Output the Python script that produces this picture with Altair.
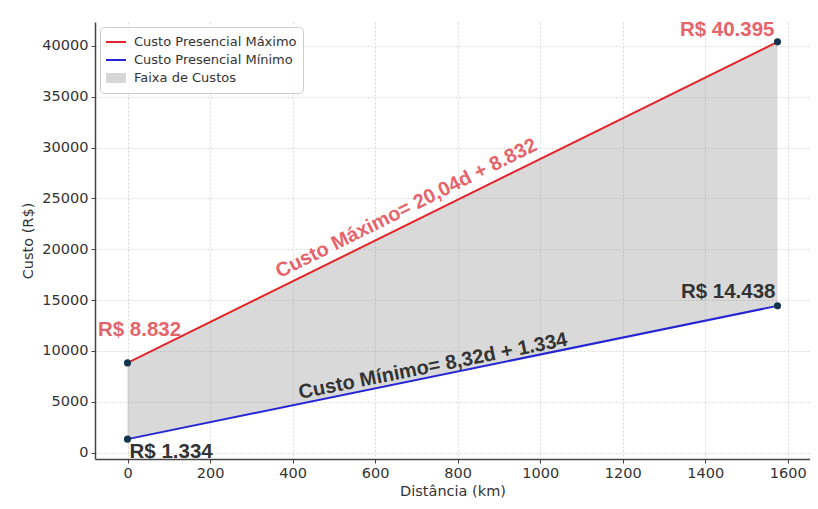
import altair as alt
import pandas as pd

# ---- data ----
distancias = [0, 1575]
custo_max = [8832, 40395]
custo_min = [1334, 14438]
serie_max = "Custo Presencial Máximo"
serie_min = "Custo Presencial Mínimo"
serie_faixa = "Faixa de Custos"

rotulos_max = ["R$ 8.832", "R$ 40.395"]
rotulos_min = ["R$ 1.334", "R$ 14.438"]

eq_textos = ["Custo Máximo= 20,04d + 8.832", "Custo Mínimo= 8,32d + 1.334"]
eq_coef = [20.04, 8.32]
eq_intercepto = [8832, 1334]
eq_d = [692, 745]

x_ticks = [0, 200, 400, 600, 800, 1000, 1200, 1400, 1600]
y_ticks = [0, 5000, 10000, 15000, 20000, 25000, 30000, 35000, 40000]

# ---- tables ----
linhas = pd.DataFrame({
    "d": distancias + distancias,
    "custo": custo_max + custo_min,
    "serie": [serie_max] * 2 + [serie_min] * 2,
})
faixa = pd.DataFrame({"d": distancias, "lo": custo_min, "hi": custo_max})

RED = "#e0262b"
BLUE = "#2525d8"
LRED = "#e5636b"
DARK = "#333333"

xs = alt.Scale(domain=[-78.75, 1653.75], nice=False, zero=False)
ys = alt.Scale(domain=[-619, 42348], nice=False, zero=False)

xax = alt.Axis(values=x_ticks, title="Distância (km)", format="d")
yax = alt.Axis(values=y_ticks, title="Custo (R$)", format="d")

area = alt.Chart(faixa).mark_area(color="#808080", opacity=0.3).encode(
    x=alt.X("d:Q", scale=xs, axis=xax),
    y=alt.Y("lo:Q", scale=ys, axis=yax),
    y2="hi:Q",
)

lines = alt.Chart(linhas).mark_line(strokeWidth=2).encode(
    x=alt.X("d:Q", scale=xs),
    y=alt.Y("custo:Q", scale=ys),
    color=alt.Color(
        "serie:N",
        scale=alt.Scale(domain=[serie_max, serie_min, serie_faixa],
                        range=[RED, BLUE, "#d6d6d6"]),
        legend=alt.Legend(
            title=None, orient="top-left", offset=5,
            symbolType="stroke", symbolSize=729,
            symbolStrokeWidth=alt.ExprRef(expr="datum.label == 'Faixa de Custos' ? 10 : 2"),
            labelFont="DejaVu Sans", labelFontSize=13, labelColor=DARK, labelLimit=400,
            fillColor="rgba(255,255,255,0.85)", strokeColor="#cccccc",
            cornerRadius=4, padding=6, rowPadding=0, clipHeight=18, labelOffset=15,
        ),
    ),
)

pts = alt.Chart(linhas).mark_circle(size=50, color="#12344d", opacity=1).encode(
    x=alt.X("d:Q", scale=xs),
    y=alt.Y("custo:Q", scale=ys),
)

lab_font = dict(font="Liberation Sans", fontWeight="bold", fontSize=20.5)
eq_font = dict(font="Liberation Sans", fontWeight="bold", fontSize=20)

def pt_label(d, c, txt, color, align, baseline, dx, dy):
    df = pd.DataFrame({"d": [d], "custo": [c], "t": [txt]})
    return alt.Chart(df).mark_text(color=color, align=align, baseline=baseline,
                                   dx=dx, dy=dy, **lab_font).encode(
        x=alt.X("d:Q", scale=xs), y=alt.Y("custo:Q", scale=ys), text="t:N")

labels = [
    pt_label(distancias[0], custo_max[0], rotulos_max[0], LRED, "center", "alphabetic", 12, -27),
    pt_label(distancias[1], custo_max[1], rotulos_max[1], LRED, "right", "alphabetic", -3, -6),
    pt_label(distancias[0], custo_min[0], rotulos_min[0], DARK, "left", "top", 2, 3),
    pt_label(distancias[1], custo_min[1], rotulos_min[1], DARK, "right", "alphabetic", -2, -8),
]

def eq_label(i, color, angle, dy):
    d = eq_d[i]
    df = pd.DataFrame({"d": [d], "custo": [eq_coef[i] * d + eq_intercepto[i]], "t": [eq_textos[i]]})
    return alt.Chart(df).mark_text(color=color, align="center", baseline="middle",
                                   angle=angle, dy=dy, **eq_font).encode(
        x=alt.X("d:Q", scale=xs), y=alt.Y("custo:Q", scale=ys), text="t:N")

eqs = [eq_label(0, LRED, 333.5, -15), eq_label(1, DARK, 348.7, -10)]

chart = alt.layer(area, lines, pts, *labels, *eqs).properties(
    width=715, height=437,
    autosize=alt.AutoSizeParams(type="none"),
    padding={"left": 87, "top": 14, "right": 0, "bottom": 40},
).configure_view(strokeWidth=0).configure_axis(
    labelFont="DejaVu Sans", labelFontSize=14.5, labelColor=DARK,
    titleFont="DejaVu Sans", titleFontSize=14.5, titleColor=DARK, titleFontWeight="normal",
    domainColor="#444444", domainWidth=1.5, tickColor="#444444", tickSize=4,
    gridColor="#cfcfcf", gridDash=[2, 2], gridWidth=0.8, labelPadding=3,
).configure_axisX(titlePadding=5).configure_axisY(titlePadding=6)

chart.save("out.html", embed_options={"renderer": "svg", "actions": False})
